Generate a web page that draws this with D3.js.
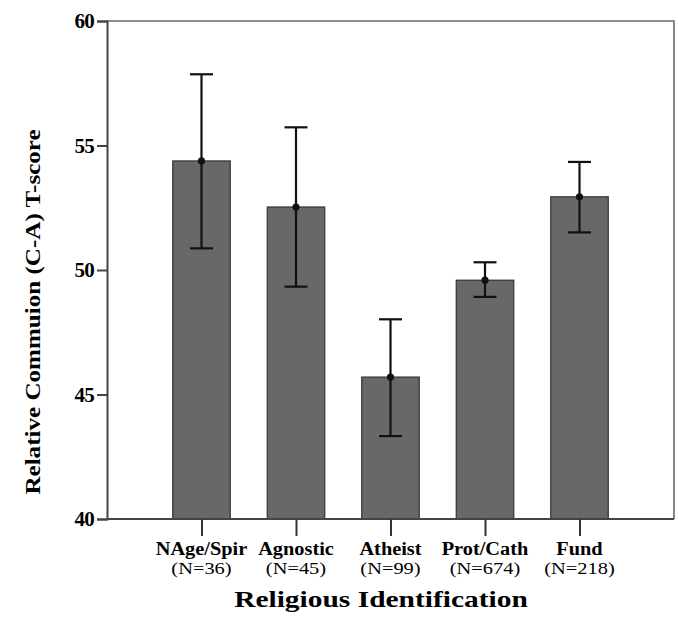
<!DOCTYPE html>
<html>
<head>
<meta charset="utf-8">
<script src="https://cdn.jsdelivr.net/npm/d3@7"></script>
<style>
  html, body { margin: 0; padding: 0; background: #fff; }
  svg { display: block; }
  text { font-family: "Liberation Serif", "Times New Roman", serif; fill: #000; }
</style>
</head>
<body>
<svg id="chart" width="678" height="631"></svg>
<script>
const categories = ["NAge/Spir", "Agnostic", "Atheist", "Prot/Cath", "Fund"];
const nLabels = ["(N=36)", "(N=45)", "(N=99)", "(N=674)", "(N=218)"];
const means = [54.38, 52.53, 45.70, 49.59, 52.94];
const errLow = [50.87, 49.33, 43.33, 48.92, 51.51];
const errHigh = [57.86, 55.73, 48.02, 50.31, 54.34];
const yTicks = [40, 45, 50, 55, 60];
const yLabel = "Relative Commuion (C-A) T-score";
const xLabel = "Religious Identification";

const margin = { left: 107, right: 4, top: 21, bottom: 112 };
const W = 678, H = 631;
const x0 = margin.left, x1 = W - margin.right, y0 = margin.top, y1 = H - margin.bottom;

const svg = d3.select("#chart");
const x = d3.scalePoint().domain(categories).range([x0, x1]).padding(1);
const y = d3.scaleLinear().domain([40, 60]).range([y1, y0]);
const barW = 57.5, capW = 23;

function stretch(sel, f) {
  sel.each(function () {
    const L = this.getComputedTextLength();
    d3.select(this).attr("textLength", L * f).attr("lengthAdjust", "spacingAndGlyphs");
  });
}

// frame (top & right)
svg.append("path")
  .attr("d", `M${x0},${y0}H${x1}V${y1}`)
  .attr("fill", "none").attr("stroke", "#6a6a6a").attr("stroke-width", 1.6);

const data = categories.map((c, i) => ({ c, n: nLabels[i], m: means[i], lo: errLow[i], hi: errHigh[i] }));

// bars
svg.append("g").selectAll("rect").data(data).join("rect")
  .attr("x", d => x(d.c) - barW / 2)
  .attr("y", d => y(d.m))
  .attr("width", barW)
  .attr("height", d => y(40) - y(d.m))
  .attr("fill", "#686868")
  .attr("stroke", "#333").attr("stroke-width", 1.2);

// error bars
const eg = svg.append("g").attr("stroke", "#111").attr("stroke-width", 2.2);
eg.selectAll("line.v").data(data).join("line").attr("class", "v")
  .attr("x1", d => x(d.c)).attr("x2", d => x(d.c))
  .attr("y1", d => y(d.lo)).attr("y2", d => y(d.hi));
eg.selectAll("line.t").data(data).join("line").attr("class", "t")
  .attr("x1", d => x(d.c) - capW / 2).attr("x2", d => x(d.c) + capW / 2)
  .attr("y1", d => y(d.hi)).attr("y2", d => y(d.hi));
eg.selectAll("line.b").data(data).join("line").attr("class", "b")
  .attr("x1", d => x(d.c) - capW / 2).attr("x2", d => x(d.c) + capW / 2)
  .attr("y1", d => y(d.lo)).attr("y2", d => y(d.lo));
svg.append("g").selectAll("circle").data(data).join("circle")
  .attr("cx", d => x(d.c)).attr("cy", d => y(d.m)).attr("r", 3.6).attr("fill", "#111");

// y axis
const yAxis = svg.append("g").attr("transform", `translate(${x0},0)`)
  .call(d3.axisLeft(y).tickValues(yTicks).tickSize(10).tickPadding(3).tickFormat(d3.format("d")));
yAxis.select(".domain").attr("stroke", "#444").attr("stroke-width", 2);
yAxis.selectAll(".tick line").attr("stroke", "#444").attr("stroke-width", 2);
yAxis.selectAll(".tick text")
  .attr("font-weight", "bold")
  .attr("font-size", 21).attr("letter-spacing", -0.8);

// x axis
const xAxis = svg.append("g").attr("transform", `translate(0,${y1})`)
  .call(d3.axisBottom(x).tickSize(17).tickFormat(""));
xAxis.select(".domain").attr("d", `M${x0},0H${x1}`).attr("stroke", "#444").attr("stroke-width", 2);
xAxis.selectAll(".tick line").attr("stroke", "#333").attr("stroke-width", 2);

const catG = svg.append("g");
catG.selectAll("text.cat").data(data).join("text").attr("class", "cat")
  .attr("x", d => x(d.c)).attr("y", 555)
  .attr("text-anchor", "middle").attr("font-weight", "bold").attr("font-size", 18)
  .text(d => d.c).call(stretch, 1.13);
catG.selectAll("text.n").data(data).join("text").attr("class", "n")
  .attr("x", d => x(d.c)).attr("y", 574)
  .attr("text-anchor", "middle").attr("font-size", 17)
  .text(d => d.n).call(stretch, 1.2);

// axis titles
svg.append("text")
  .attr("x", 381).attr("y", 607)
  .attr("text-anchor", "middle").attr("font-weight", "bold").attr("font-size", 23)
  .text(xLabel).call(stretch, 1.28);

svg.append("text")
  .attr("transform", "translate(40,312) rotate(-90)")
  .attr("text-anchor", "middle").attr("font-weight", "bold").attr("font-size", 22)
  .text(yLabel).call(stretch, 1.14);
</script>
</body>
</html>
